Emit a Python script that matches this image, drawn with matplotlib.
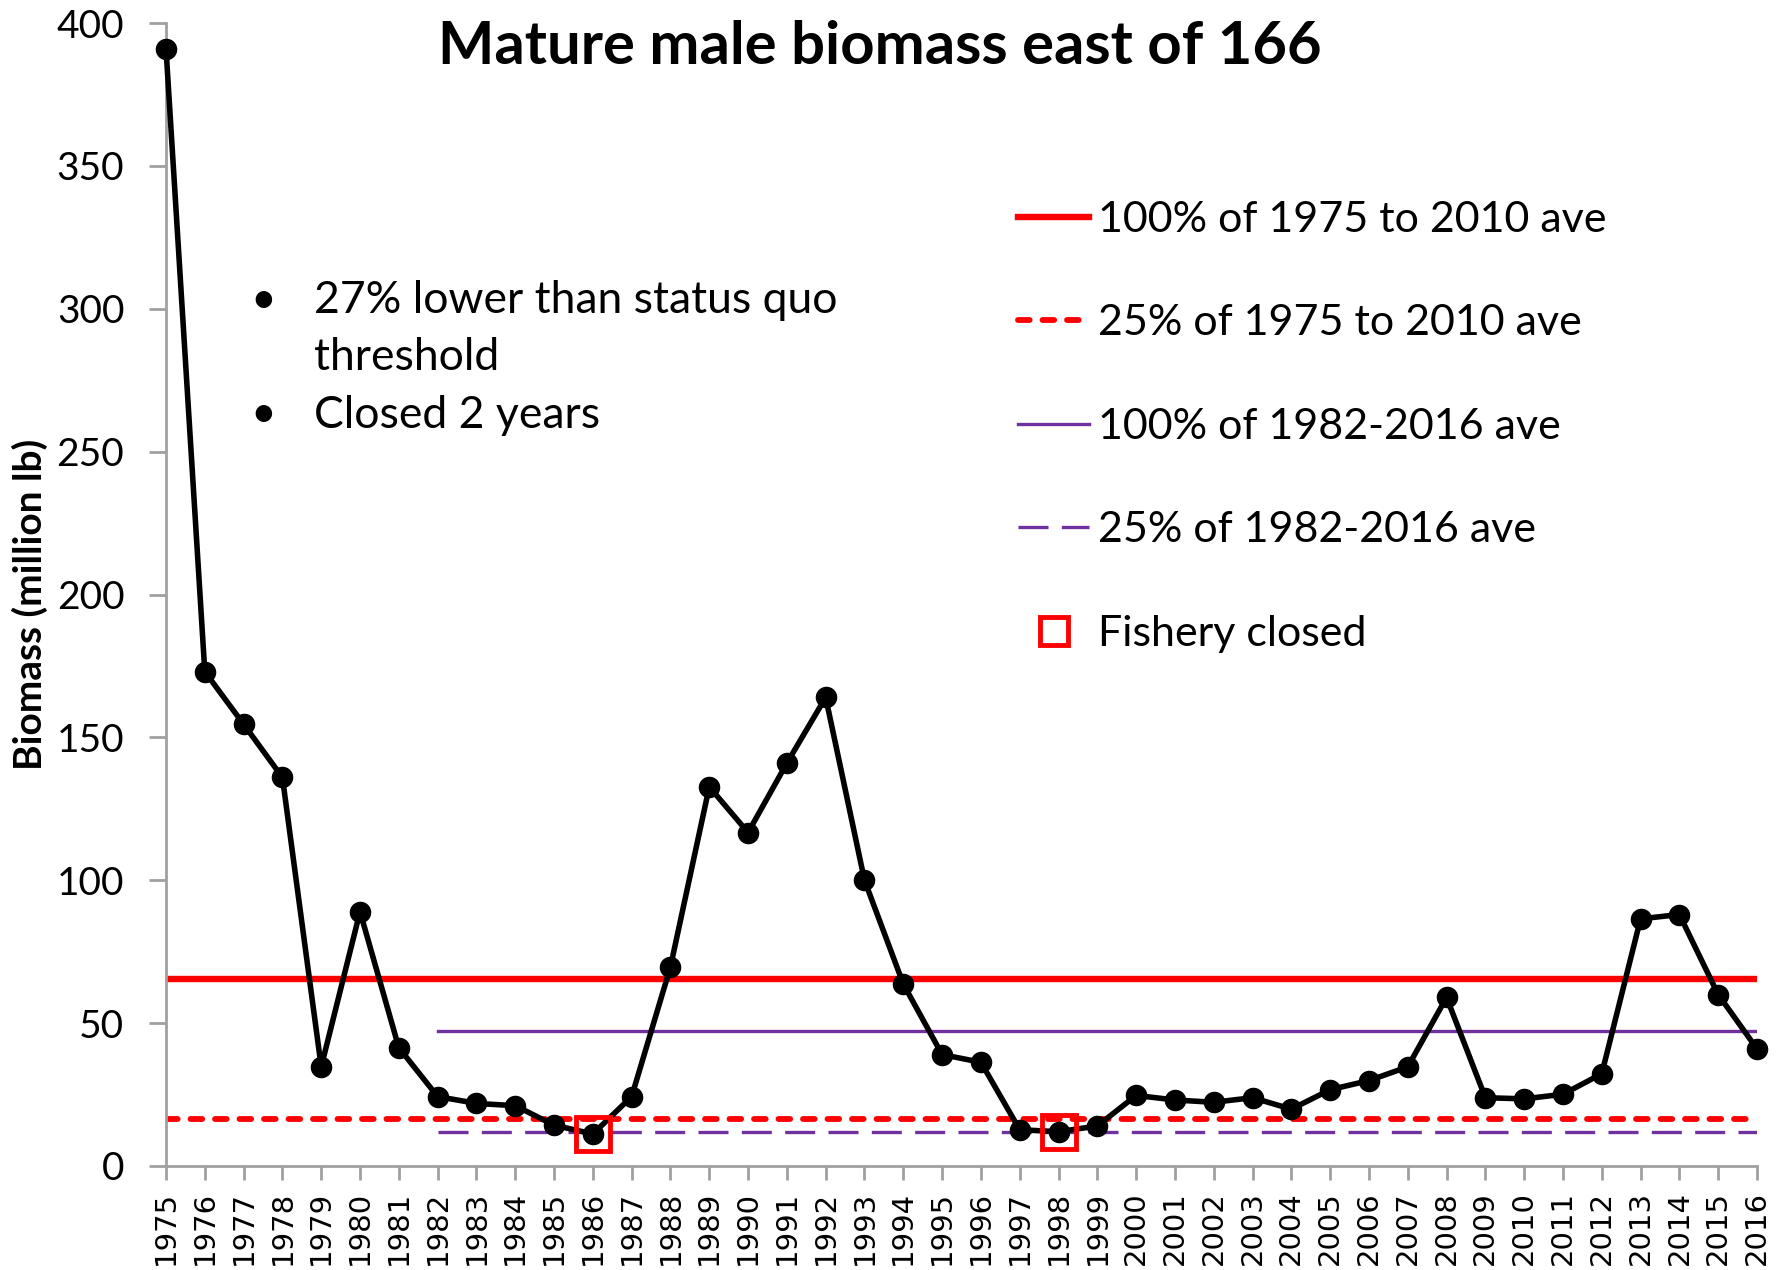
import numpy as np
import matplotlib
matplotlib.use("Agg")
import matplotlib.pyplot as plt
from matplotlib.lines import Line2D

plt.rcParams['font.family'] = ['Lato', 'DejaVu Sans']

# data
years = list(range(1975, 2017))
biomass = [391, 173, 154.6, 136, 34.7, 89, 41.4, 24.3, 21.9, 21.1,
           14.3, 11.2, 24.3, 69.7, 132.7, 116.7, 141, 164, 100, 63.7,
           39, 36.3, 12.7, 12, 14, 24.7, 23.1, 22.3, 23.9, 19.9,
           26.7, 29.9, 34.7, 59, 23.9, 23.5, 25.1, 32.3, 86.5, 88,
           60, 41]
ave_75_10 = 65.3
ave_82_16 = 47.4
closed_years = [1986, 1998]
labels = ["100% of 1975 to 2010 ave", "25% of 1975 to 2010 ave",
          "100% of 1982-2016 ave", "25% of 1982-2016 ave", "Fishery closed"]

RED = '#FF0000'
PURPLE = '#7030A0'
GREY = '#A0A0A0'

fig = plt.figure(figsize=(17.86, 12.70), dpi=100)
ax = fig.add_axes([166/1786, 1 - 1166/1270, (1757-166)/1786, (1166-23)/1270])

yrs_82 = [y for y in years if y >= 1982]
ax.plot(years, [ave_75_10]*len(years), color=RED, lw=4.6, zorder=2)
ax.plot(years, [ave_75_10*0.25]*len(years), color=RED, lw=4.2,
        dashes=(2.0, 2.2), dash_capstyle='round', zorder=2)
ax.plot(yrs_82, [ave_82_16]*len(yrs_82), color=PURPLE, lw=2.4, zorder=2)
ax.plot(yrs_82, [ave_82_16*0.25]*len(yrs_82), color=PURPLE, lw=2.4,
        dashes=(9, 4), zorder=2)

ax.plot(years, biomass, color='black', lw=4, marker='o', ms=14.5,
        clip_on=False, zorder=4)

closed_vals = [biomass[years.index(y)] for y in closed_years]
ax.plot(closed_years, closed_vals, ls='none', marker='s', ms=25,
        mfc='none', mec=RED, mew=3.5, zorder=5)

ax.set_xlim(1975, 2016)
ax.set_ylim(0, 400)
ax.set_yticks(range(0, 401, 50))
ax.set_xticks(years)
ax.set_xticklabels([str(y) for y in years], rotation=90,
                   family='DejaVu Sans', fontsize=21)
ax.tick_params(axis='y', labelsize=28, length=12, width=2, color=GREY, pad=18)
ax.tick_params(axis='x', length=10, width=2, color=GREY, pad=8)
for s in ['top', 'right']:
    ax.spines[s].set_visible(False)
for s in ['left', 'bottom']:
    ax.spines[s].set_color(GREY)
    ax.spines[s].set_linewidth(2)

fig.text(30/1786, 1 - 604/1270, "Biomass (million lb)", rotation=90,
         ha='center', va='center', fontsize=28, fontweight='bold')

fig.text(880/1786, 1 - 47/1270, "Mature male biomass east of 166",
         ha='center', va='center', fontsize=43, fontweight='bold')

# bullet notes
notes = [("•", "27% lower than status quo", 301), (None, "threshold", 358),
         ("•", "Closed 2 years", 415)]
for b, t, yp in notes:
    if b:
        fig.text(263/1786, 1 - yp/1270, b, ha='center', va='center', fontsize=32)
    fig.text(314/1786, 1 - yp/1270, t, ha='left', va='center', fontsize=32)

handles = [
    Line2D([], [], color=RED, lw=4.6),
    Line2D([], [], color=RED, lw=4.2, dashes=(2.0, 2.2), dash_capstyle='round'),
    Line2D([], [], color=PURPLE, lw=2.4),
    Line2D([], [], color=PURPLE, lw=2.4, dashes=(9, 4)),
    Line2D([], [], ls='none', marker='s', ms=20, mfc='none', mec=RED, mew=3.5),
]
fig.legend(handles, labels, loc='upper left',
           bbox_to_anchor=(1018/1786, 1 - 201/1270), frameon=False,
           fontsize=31, handlelength=1.65, handletextpad=0.2,
           labelspacing=1.52, borderpad=0, borderaxespad=0)

fig.savefig("out.png", dpi=100)
